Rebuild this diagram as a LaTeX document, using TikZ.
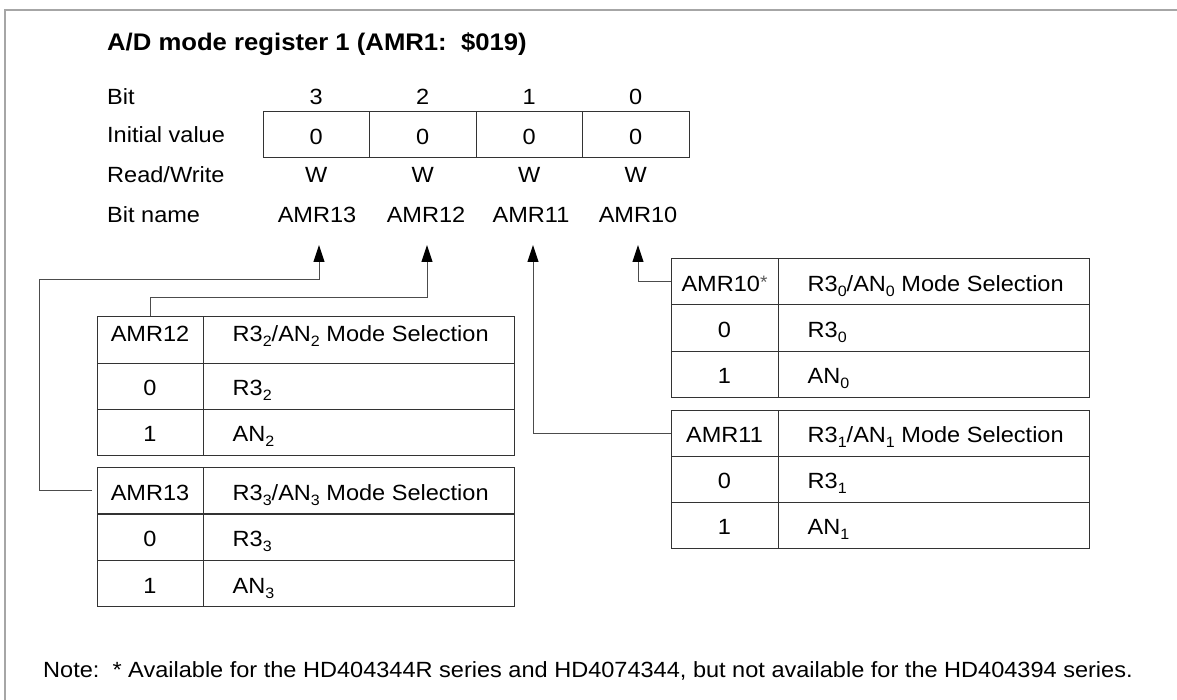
\documentclass[tikz,border=0pt]{standalone}
\usepackage{fontspec}
\setmainfont{Liberation Sans}[FakeStretch=1.07]
\usetikzlibrary{arrows.meta}
\newcommand\subidx[1]{\raisebox{-5pt}{\fontsize{15}{15}\selectfont #1}}
\begin{document}
\begin{tikzpicture}[x=1pt,y=-1pt,
  font=\fontsize{22}{26}\selectfont,
  lbl/.style={inner sep=0pt, text height=15.8pt, text depth=0pt},
  cell/.style={draw=black!80, line width=1pt, minimum height=46pt, inner sep=0pt, text height=19.4pt, text depth=0pt},
  reg/.style={cell, minimum width=106.5pt},
  ca/.style={cell, minimum width=106pt},
  cb/.style={cell, minimum width=311pt},
  ctext/.style={inner sep=0pt, text height=19.4pt, text depth=0pt, anchor=west},
  hdup/.style={text height=15.8pt, text depth=12pt},
  conn/.style={draw=black!70, line width=1pt, -{Triangle[length=17pt,width=11pt,color=black]}},
  frame/.style={draw=black!35, line width=1.5pt}
]
\useasboundingbox (0,0) rectangle (1177,700);
\fill[white] (0,0) rectangle (1177,700);
\draw[frame] (1177,10) -- (5,10) -- (5,700);

% title
\node[inner sep=0pt, text height=17pt, text depth=0pt, anchor=west, font=\fontsize{24}{28}\selectfont\bfseries] (title) at (107,42.5) {A/D mode register 1 (AMR1:\ \ \$019)};

% row labels
\node[lbl, anchor=west] (lbit) at (107,97) {Bit};
\node[lbl, anchor=west] (linit) at (107,135) {Initial value};
\node[lbl, anchor=west] (lrw) at (107,175) {Read/Write};
\node[lbl, anchor=west] (lname) at (107,215) {Bit name};

% bit numbers
\node[lbl] (b3) at (316.25,97) {3};
\node[lbl] (b2) at (422.75,97) {2};
\node[lbl] (b1) at (529.25,97) {1};
\node[lbl] (b0) at (635.75,97) {0};

% register cells
\node[reg] (r3) at (316.25,135) {0};
\node[reg] (r2) at (422.75,135) {0};
\node[reg] (r1) at (529.25,135) {0};
\node[reg] (r0) at (635.75,135) {0};

% read/write
\node[lbl] (w3) at (316.25,175) {W};
\node[lbl] (w2) at (422.75,175) {W};
\node[lbl] (w1) at (529.25,175) {W};
\node[lbl] (w0) at (635.75,175) {W};

% bit names
\node[lbl] (n13) at (317,215) {AMR13};
\node[lbl] (n12) at (426,215) {AMR12};
\node[lbl] (n11) at (531,215) {AMR11};
\node[lbl] (n10) at (638,215) {AMR10};

\coordinate (p13) at (319,245);
\coordinate (p12) at (427,245);
\coordinate (p11) at (533,245);
\coordinate (p10) at (638,245);

% AMR12 table
\node[ca, hdup] (t12h) at (150,340) {AMR12};
\node[cb] (t12hb) at (358.5,340) {};
\node[ctext, hdup] (x12h) at ([xshift=30pt]t12hb.west) {R3\subidx{2}/AN\subidx{2} Mode Selection};
\node[ca] (t12a) at (150,386) {0};
\node[cb] (t12ab) at (358.5,386) {};
\node[ctext] (x12a) at ([xshift=30pt]t12ab.west) {R3\subidx{2}};
\node[ca] (t12b) at (150,432) {1};
\node[cb] (t12bb) at (358.5,432) {};
\node[ctext] (x12b) at ([xshift=30pt]t12bb.west) {AN\subidx{2}};

% AMR13 table
\node[ca] (t13h) at (150,490.5) {AMR13};
\node[cb] (t13hb) at (358.5,490.5) {};
\node[ctext] (x13h) at ([xshift=30pt]t13hb.west) {R3\subidx{3}/AN\subidx{3} Mode Selection};
\node[ca] (t13a) at (150,537) {0};
\node[cb] (t13ab) at (358.5,537) {};
\node[ctext] (x13a) at ([xshift=30pt]t13ab.west) {R3\subidx{3}};
\node[ca] (t13b) at (150,583.5) {1};
\node[cb] (t13bb) at (358.5,583.5) {};
\node[ctext] (x13b) at ([xshift=30pt]t13bb.west) {AN\subidx{3}};

% AMR10 table
\node[ca, minimum width=107pt] (t10h) at (724.5,282) {AMR10\raisebox{3pt}{\fontsize{18}{18}\selectfont\color{black!65}*}};
\node[cb] (t10hb) at (933.5,282) {};
\node[ctext] (x10h) at ([xshift=30pt]t10hb.west) {R3\subidx{0}/AN\subidx{0} Mode Selection};
\node[ca, minimum width=107pt] (t10a) at (724.5,328) {0};
\node[cb] (t10ab) at (933.5,328) {};
\node[ctext] (x10a) at ([xshift=30pt]t10ab.west) {R3\subidx{0}};
\node[ca, minimum width=107pt] (t10b) at (724.5,374) {1};
\node[cb] (t10bb) at (933.5,374) {};
\node[ctext] (x10b) at ([xshift=30pt]t10bb.west) {AN\subidx{0}};

% AMR11 table
\node[ca, minimum width=107pt] (t11h) at (724.5,433) {AMR11};
\node[cb] (t11hb) at (933.5,433) {};
\node[ctext] (x11h) at ([xshift=30pt]t11hb.west) {R3\subidx{1}/AN\subidx{1} Mode Selection};
\node[ca, minimum width=107pt] (t11a) at (724.5,479) {0};
\node[cb] (t11ab) at (933.5,479) {};
\node[ctext] (x11a) at ([xshift=30pt]t11ab.west) {R3\subidx{1}};
\node[ca, minimum width=107pt] (t11b) at (724.5,525) {1};
\node[cb] (t11bb) at (933.5,525) {};
\node[ctext] (x11b) at ([xshift=30pt]t11bb.west) {AN\subidx{1}};

% connectors
\draw[conn] ([xshift=-5pt]t13h.west) -- ++(-52,0) |- ([yshift=-35pt]p13) -- (p13);
\draw[conn] (t12h.north) -- ++(0,-19) -| (p12);
\draw[conn] (t11h.west) -| (p11);
\draw[conn] (t10h.west) -| (p10);

% note
\node[lbl, anchor=west] (note) at (43,670) {Note:\ \ * Available for the HD404344R series and HD4074344, but not available for the HD404394 series.};
\end{tikzpicture}
\end{document}
